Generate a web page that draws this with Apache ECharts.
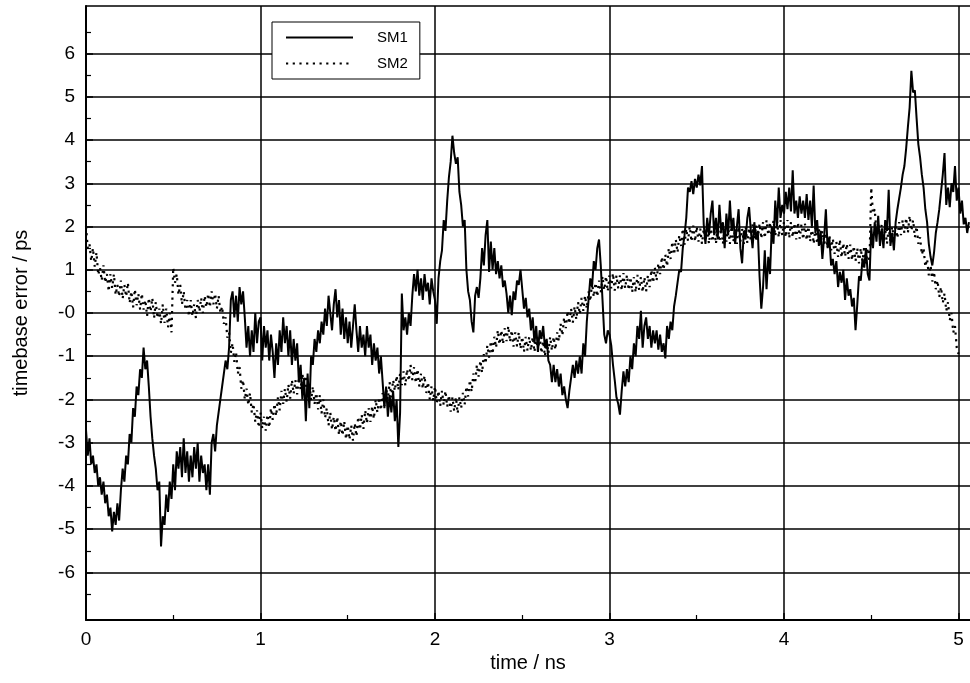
<!DOCTYPE html>
<html>
<head>
<meta charset="utf-8">
<script src="https://cdn.jsdelivr.net/npm/echarts@6/dist/echarts.min.js"></script>
<style>
  html, body { margin: 0; padding: 0; background: #fff; }
  #chart { width: 970px; height: 683px; }
</style>
</head>
<body>
<div id="chart"></div>
<script>
// Timebase error samples, one value per 10 ps of time (values in ps).
const SAMPLE_STEP_NS = 0.01;

// SM1, split per nanosecond
const SM1_NS0 = [
  -2.7, -3.3, -2.9, -3.5, -3.3, -3.7, -3.5, -4.0, -3.8, -4.2,
  -3.9, -4.4, -4.2, -4.7, -4.5, -5.05, -4.6, -4.9, -4.4, -4.8,
  -4.1, -3.6, -3.9, -3.3, -3.5, -2.8, -3.0, -2.2, -2.4, -1.7,
  -1.9, -1.3, -1.5, -0.8, -1.3, -1.1, -1.7, -2.4, -2.9, -3.3,
  -3.6, -4.1, -3.9, -5.4, -4.7, -4.9, -4.2, -4.6, -3.9, -4.3,
  -3.5, -4.1, -3.2, -3.6, -3.1, -3.8, -2.9, -3.7, -3.2, -3.9,
  -3.3, -3.8, -3.1, -3.6, -3.0, -3.9, -3.3, -3.7, -3.5, -4.1,
  -3.5, -4.2, -3.0, -2.8, -3.2, -2.6, -2.3, -2.0, -1.7, -1.4,
  -1.1, -1.3, -0.8, 0.3, 0.5, -0.1, 0.4, -0.2, 0.6, 0.2,
  0.5, -0.1, -0.8, -0.3, -1.0, -0.4, -0.9, 0.0, -0.7, -0.2
];
const SM1_NS1 = [
  -0.1, -1.1, -0.3, -0.8, -0.4, -1.1, -0.5, -0.9, -1.5, -0.7,
  -1.2, -0.4, -0.9, -0.1, -0.7, -0.3, -1.0, -0.4, -1.2, -0.6,
  -1.1, -0.7, -1.6, -1.2, -2.0, -1.5, -2.5, -1.4, -2.2, -1.0,
  -1.2, -0.6, -0.9, -0.4, -0.7, -0.2, -0.5, 0.1, -0.3, 0.4,
  0.0, -0.4, 0.2, 0.55, -0.1, 0.3, -0.5, 0.1, -0.6, -0.1,
  -0.7, -0.2, -0.8, -0.3, 0.2, -0.4, -0.9, -0.3, -0.8, -0.5,
  -1.0, -0.3, -0.8, -0.5, -1.2, -0.7, -1.1, -0.8, -1.4, -1.0,
  -1.6, -2.2, -1.7, -2.4, -1.9, -2.3, -1.8, -2.5, -2.0, -3.1,
  -2.3, 0.45, -0.4, -0.1, -0.5, 0.0, -0.3, 0.4, 0.9, 0.5,
  1.0, 0.4, 0.8, 0.3, 0.9, 0.5, 0.7, 0.2, 0.8, 0.5
];
const SM1_NS2 = [
  0.3, -0.25, 0.8, 1.2, 1.45, 2.15, 1.9, 2.6, 3.15, 3.5,
  4.1, 3.7, 3.45, 3.6, 2.8, 2.5, 2.0, 2.15, 1.0, 0.5,
  0.3, -0.2, -0.45, 0.4, 0.6, 0.35, 0.8, 1.5, 1.1, 1.8,
  2.15, 0.95, 1.65, 1.0, 1.5, 0.9, 1.2, 0.8, 1.1, 0.6,
  0.75, 0.45, 0.0, 0.4, -0.05, 0.5, 0.3, 0.75, 0.65, 1.0,
  0.55, 0.1, 0.35, -0.1, 0.1, -0.4, -0.1, -0.7, -0.3, -0.9,
  -0.4, -0.6, -0.3, -0.8, -0.6, -1.1, -1.2, -1.6, -1.2, -1.6,
  -1.3, -1.7, -1.4, -1.9, -1.7, -2.0, -2.2, -1.8, -1.5, -1.2,
  -1.5, -1.1, -1.4, -1.0, -1.4, -0.7, -1.0, -0.2, 0.3, 0.8,
  0.6, 1.2, 1.0, 1.5, 1.7, 1.1, 0.3, -0.5, -0.7, -0.4
];
const SM1_NS3 = [
  -0.5, -0.75, -1.2, -1.55, -1.95, -2.1, -2.35, -1.8, -1.35, -1.7,
  -1.3, -1.6, -1.0, -1.3, -0.7, -1.0, -0.3, -0.6, 0.05, -0.8,
  -0.3, -0.1, -0.6, -0.3, -0.8, -0.4, -0.7, -0.4, -0.85, -0.5,
  -0.9, -0.7, -1.05, -0.3, -0.6, -0.2, -0.4, 0.15, 0.4, 0.7,
  1.0, 0.95, 1.5, 1.8, 2.2, 2.9, 2.8, 3.05, 2.75, 3.1,
  2.9, 3.2, 2.95, 3.4, 2.05, 1.6, 2.2, 1.8, 2.3, 2.6,
  1.8, 2.2, 1.7, 2.5, 1.9, 2.1, 1.5, 2.3, 1.8, 2.6,
  1.9, 2.2, 1.6, 2.0, 2.4, 1.5, 1.15, 1.9, 1.7, 2.2,
  2.45, 1.9, 1.5, 2.1, 1.7, 1.9, 0.85, 0.1, 0.6, 1.45,
  0.55, 1.3, 0.9, 2.0, 1.6, 2.6, 2.0, 2.9, 2.2, 2.5
];
const SM1_NS4 = [
  2.3, 2.8, 2.4, 2.9, 2.35, 3.3, 2.3, 2.6, 2.2, 2.7,
  2.3, 2.6, 2.2, 2.75, 2.15, 2.6, 2.0, 2.95, 1.85, 2.15,
  1.55, 1.9, 1.25, 1.75, 2.4, 1.5, 1.75, 1.1, 1.25, 0.9,
  1.2, 0.6, 0.95, 0.7, 1.0, 0.3, 0.8, 0.4, 0.55, 0.15,
  0.35, -0.4, 0.2, 0.85, 0.75, 1.25, 1.05, 1.5, 0.9, 0.75,
  2.0, 1.5, 2.1, 1.65, 2.25, 1.55, 1.95, 1.5, 2.15, 1.9,
  2.85, 1.55, 1.85, 1.45, 2.1, 2.4, 2.65, 2.9, 3.2, 3.4,
  3.8, 4.3, 4.75, 5.6, 5.1, 5.15, 4.5, 3.9, 3.6, 3.2,
  2.9, 2.4, 2.1, 1.6, 1.3, 1.1, 1.4, 1.85, 2.1, 2.4,
  2.8, 3.2, 3.7, 2.5, 2.9, 2.45, 3.0, 2.8, 3.4, 2.6
];
const SM1_NS5 = [2.9, 2.3, 2.6, 2.05, 2.2, 1.85, 2.1];

// SM2, split per nanosecond
const SM2_NS0 = [
  2.0, 1.5, 1.6, 1.2, 1.5, 1.07, 1.4, 0.88, 1.05, 0.75,
  1.1, 0.7, 0.9, 0.5, 0.9, 0.58, 0.9, 0.42, 0.65, 0.38,
  0.75, 0.33, 0.65, 0.38, 0.7, 0.23, 0.5, 0.13, 0.55, 0.18,
  0.45, 0.08, 0.45, 0.08, 0.3, -0.07, 0.35, 0.03, 0.35, -0.12,
  0.25, -0.12, 0.1, -0.25, 0.2, -0.23, 0.1, -0.33, 0.0, -0.45,
  1.05, 0.7, 0.9, 0.42, 0.65, 0.2, 0.5, 0.07, 0.3, -0.08,
  0.3, -0.07, 0.2, -0.12, 0.3, 0.03, 0.35, 0.0, 0.4, 0.13,
  0.45, 0.13, 0.5, 0.2, 0.45, 0.1, 0.4, 0.0, 0.15, -0.25,
  -0.1, -0.57, -0.45, -0.92, -0.7, -1.13, -0.9, -1.4, -1.25, -1.75,
  -1.55, -2.0, -1.75, -2.13, -1.85, -2.3, -2.1, -2.52, -2.25, -2.65
];
const SM2_NS1 = [
  -2.3, -2.67, -2.4, -2.72, -2.35, -2.65, -2.2, -2.47, -2.1, -2.38,
  -1.95, -2.25, -1.8, -2.1, -1.75, -2.05, -1.65, -1.98, -1.55, -1.87,
  -1.55, -1.88, -1.5, -1.77, -1.4, -1.8, -1.45, -1.83, -1.6, -2.02,
  -1.7, -2.1, -1.85, -2.23, -1.9, -2.32, -2.0, -2.43, -2.2, -2.6,
  -2.3, -2.7, -2.4, -2.73, -2.4, -2.82, -2.5, -2.83, -2.5, -2.92,
  -2.6, -2.93, -2.6, -2.95, -2.55, -2.85, -2.4, -2.7, -2.35, -2.68,
  -2.25, -2.55, -2.2, -2.52, -2.15, -2.45, -2.0, -2.3, -1.95, -2.25,
  -1.85, -2.15, -1.75, -2.0, -1.6, -1.95, -1.55, -1.8, -1.45, -1.78,
  -1.4, -1.67, -1.35, -1.68, -1.3, -1.57, -1.2, -1.55, -1.25, -1.62,
  -1.3, -1.7, -1.4, -1.75, -1.45, -1.85, -1.6, -2.0, -1.7, -2.03
];
const SM2_NS2 = [
  -1.7, -2.07, -1.8, -2.15, -1.8, -2.13, -1.8, -2.17, -1.9, -2.28,
  -1.95, -2.27, -1.95, -2.32, -1.95, -2.2, -1.85, -2.12, -1.7, -1.93,
  -1.55, -1.82, -1.4, -1.63, -1.2, -1.47, -1.1, -1.38, -0.95, -1.17,
  -0.75, -1.03, -0.65, -0.95, -0.55, -0.8, -0.4, -0.73, -0.4, -0.72,
  -0.35, -0.65, -0.3, -0.67, -0.4, -0.78, -0.45, -0.77, -0.45, -0.83,
  -0.55, -0.9, -0.55, -0.87, -0.55, -0.87, -0.55, -0.9, -0.55, -0.87,
  -0.55, -0.93, -0.65, -1.0, -0.65, -0.93, -0.55, -0.87, -0.55, -0.85,
  -0.45, -0.65, -0.25, -0.52, -0.1, -0.35, 0.05, -0.25, 0.1, -0.22,
  0.15, -0.15, 0.25, -0.03, 0.35, 0.05, 0.4, 0.1, 0.5, 0.27,
  0.7, 0.37, 0.7, 0.38, 0.75, 0.47, 0.85, 0.53, 0.85, 0.5
];
const SM2_NS3 = [
  0.87, 0.57, 0.92, 0.52, 0.87, 0.57, 0.87, 0.52, 0.92, 0.57,
  0.88, 0.53, 0.83, 0.48, 0.83, 0.48, 0.88, 0.53, 0.83, 0.48,
  0.83, 0.5, 0.87, 0.6, 1.0, 0.7, 1.05, 0.75, 1.15, 0.9,
  1.3, 1.0, 1.35, 1.08, 1.5, 1.25, 1.65, 1.35, 1.7, 1.4,
  1.8, 1.55, 1.95, 1.58, 1.95, 1.67, 2.0, 1.65, 2.02, 1.65,
  2.0, 1.65, 1.95, 1.6, 1.95, 1.65, 2.0, 1.6, 1.95, 1.65,
  1.95, 1.6, 2.0, 1.65, 1.95, 1.6, 1.95, 1.65, 2.0, 1.6,
  2.0, 1.65, 1.95, 1.6, 2.0, 1.65, 1.95, 1.6, 2.0, 1.62,
  1.97, 1.65, 2.05, 1.68, 2.03, 1.7, 2.07, 1.72, 2.1, 1.73,
  2.15, 1.8, 2.1, 1.75, 2.15, 1.78, 2.12, 1.75, 2.15, 1.8
];
const SM2_NS4 = [
  2.1, 1.75, 2.15, 1.73, 2.1, 1.75, 2.08, 1.7, 2.1, 1.72,
  2.05, 1.7, 2.07, 1.68, 2.0, 1.65, 2.0, 1.6, 1.97, 1.6,
  1.95, 1.58, 1.9, 1.55, 1.85, 1.5, 1.8, 1.45, 1.72, 1.37,
  1.65, 1.3, 1.7, 1.28, 1.62, 1.3, 1.6, 1.25, 1.58, 1.22,
  1.55, 1.2, 1.5, 1.15, 1.5, 1.2, 1.55, 1.15, 1.5, 1.18,
  2.9, 2.3, 2.4, 1.85, 2.1, 1.7, 2.05, 1.67, 1.95, 1.6,
  1.97, 1.67, 2.0, 1.7, 2.05, 1.73, 2.1, 1.8, 2.15, 1.85,
  2.2, 1.85, 2.25, 1.9, 2.15, 1.75, 2.0, 1.6, 1.75, 1.35,
  1.5, 1.07, 1.25, 0.87, 1.1, 0.73, 0.95, 0.55, 0.75, 0.37,
  0.6, 0.23, 0.45, 0.05, 0.25, -0.17, 0.0, -0.45, -0.3, -0.8
];
const SM2_NS5 = [-0.95];

// Axis ticks and labels
const X_TICKS = [0, 1, 2, 3, 4, 5];
const Y_TICKS = [-6, -5, -4, -3, -2, -1, 0, 1, 2, 3, 4, 5, 6];
const Y_TICK_LABELS = ['-6', '-5', '-4', '-3', '-2', '-1', '-0', '1', '2', '3', '4', '5', '6'];
const X_RANGE = [0, 5.066];
const Y_RANGE = [-7.1, 7.1];

const SM1 = [].concat(SM1_NS0, SM1_NS1, SM1_NS2, SM1_NS3, SM1_NS4, SM1_NS5);
const SM2 = [].concat(SM2_NS0, SM2_NS1, SM2_NS2, SM2_NS3, SM2_NS4, SM2_NS5);

function toPoints(values) {
  return values.map((v, i) => [+(i * SAMPLE_STEP_NS).toFixed(2), v]);
}

const FONT = '"Liberation Sans", Arial, Helvetica, sans-serif';
const INK = '#000';

const chart = echarts.init(document.getElementById('chart'), null, { renderer: 'canvas' });

chart.setOption({
  animation: false,
  backgroundColor: '#fff',
  textStyle: { fontFamily: FONT, color: INK },
  grid: { left: 86, right: 0, top: 6, bottom: 63 },
  legend: {
    data: ['SM1', 'SM2'],
    orient: 'vertical',
    left: 272,
    top: 22,
    padding: [8, 12, 8, 13],
    itemWidth: 67,
    itemHeight: 14,
    itemGap: 11,
    selectedMode: false,
    backgroundColor: '#fff',
    borderColor: INK,
    borderWidth: 1,
    borderRadius: 0,
    itemStyle: { color: 'transparent', borderColor: 'transparent', borderWidth: 0 },
    textStyle: { fontSize: 15, color: INK, fontFamily: FONT, padding: [0, 0, 0, 19] }
  },
  xAxis: [
    {
      type: 'value',
      min: X_RANGE[0],
      max: X_RANGE[1],
      splitNumber: 5,
      minInterval: 1,
      maxInterval: 1,
      name: 'time / ns',
      nameLocation: 'middle',
      nameGap: 33,
      nameTextStyle: { fontSize: 20, color: INK, fontFamily: FONT },
      axisLine: { show: true, onZero: false, lineStyle: { color: INK, width: 2 } },
      axisTick: { show: true, inside: true, length: 7, customValues: X_TICKS, lineStyle: { color: INK, width: 1.5 } },
      minorTick: { show: true, splitNumber: 2, length: 5, lineStyle: { color: INK, width: 1.2 } },
      axisLabel: { customValues: X_TICKS, margin: 10, fontSize: 19, color: INK, fontFamily: FONT },
      splitLine: { show: true, lineStyle: { color: INK, width: 1.5 } },
      minorSplitLine: { show: false }
    },
    {
      type: 'value',
      position: 'top',
      min: X_RANGE[0],
      max: X_RANGE[1],
      axisLine: { show: true, onZero: false, lineStyle: { color: INK, width: 1.5 } },
      axisTick: { show: false },
      axisLabel: { show: false },
      splitLine: { show: false }
    }
  ],
  yAxis: {
    type: 'value',
    min: Y_RANGE[0],
    max: Y_RANGE[1],
    splitNumber: 14,
    minInterval: 1,
    maxInterval: 1,
    name: 'timebase error / ps',
    nameLocation: 'middle',
    nameGap: 55,
    nameTextStyle: { fontSize: 20, color: INK, fontFamily: FONT },
    axisLine: { show: true, onZero: false, lineStyle: { color: INK, width: 2 } },
    axisTick: { show: true, inside: true, length: 7, customValues: Y_TICKS, lineStyle: { color: INK, width: 1.5 } },
    minorTick: { show: true, splitNumber: 2, length: 5, lineStyle: { color: INK, width: 1.2 } },
    axisLabel: {
      customValues: Y_TICKS,
      margin: 11,
      fontSize: 19,
      color: INK,
      fontFamily: FONT,
      formatter: (v) => Y_TICK_LABELS[Y_TICKS.indexOf(Math.round(v))]
    },
    splitLine: { show: true, lineStyle: { color: INK, width: 1.5 } },
    minorSplitLine: { show: false }
  },
  series: [
    {
      name: 'SM1',
      type: 'line',
      xAxisIndex: 0,
      data: toPoints(SM1),
      symbol: 'none',
      sampling: null,
      z: 3,
      itemStyle: { color: INK },
      lineStyle: { color: INK, width: 2 }
    },
    {
      name: 'SM2',
      type: 'line',
      xAxisIndex: 0,
      data: toPoints(SM2),
      symbol: 'none',
      z: 2,
      itemStyle: { color: INK },
      lineStyle: { color: INK, width: 2.2, type: [2.2, 4.5] }
    }
  ]
});
</script>
</body>
</html>
